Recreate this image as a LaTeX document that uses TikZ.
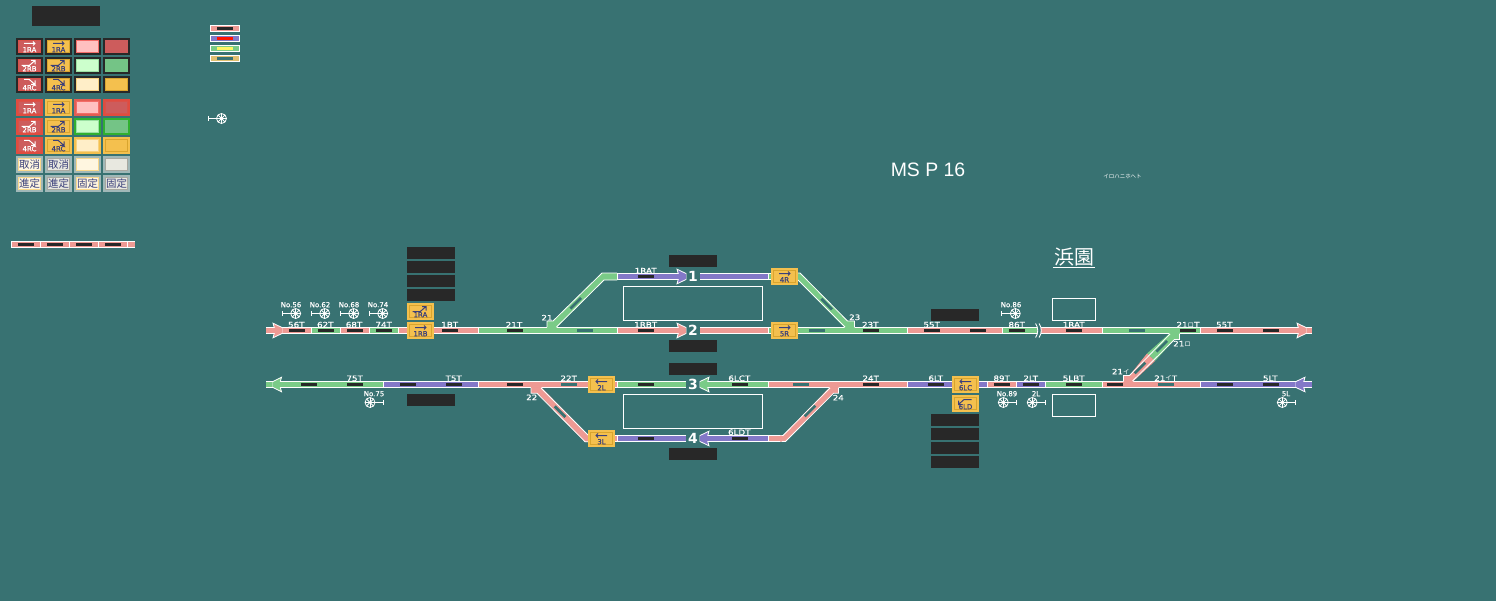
\documentclass[tikz,border=0pt]{standalone}
\usepackage{fontspec}
\setmainfont{DejaVu Sans}
\newfontfamily\lblfont[FakeStretch=1.17,FakeBold=0.4]{DejaVu Sans}
\newfontfamily\smlfont[FakeBold=0.4]{DejaVu Sans}
\newfontfamily\btnfont[FakeBold=0.6]{DejaVu Sans}
\newfontfamily\cjkfont{Noto Sans CJK JP}
\newfontfamily\titlefont{Liberation Sans}
\definecolor{bgc}{RGB}{56,114,114}
\definecolor{dark}{RGB}{40,40,40}
\definecolor{pinkc}{RGB}{238,154,148}
\definecolor{purp}{RGB}{131,120,200}
\definecolor{grn}{RGB}{122,203,135}
\definecolor{tanc}{RGB}{224,192,112}
\definecolor{yel}{RGB}{244,192,78}
\definecolor{yeld}{RGB}{217,165,46}
\definecolor{redb}{RGB}{205,92,92}
\definecolor{redo}{RGB}{224,76,64}
\definecolor{grnb}{RGB}{116,196,134}
\definecolor{grno}{RGB}{48,176,48}
\definecolor{navy2}{RGB}{58,63,122}
\definecolor{greyo}{RGB}{160,184,184}
\definecolor{greyf}{RGB}{168,168,160}
\definecolor{lgrey}{RGB}{232,232,224}
\definecolor{lpink}{RGB}{255,192,192}
\definecolor{lgrn}{RGB}{204,255,204}
\definecolor{lyel}{RGB}{255,238,200}
\definecolor{lyel2}{RGB}{255,246,224}
\tikzset{
  wl/.style={white,line width=1bp},
  wd/.style={white,line width=.8bp},
  lbl/.style={text=white,inner sep=0pt,font=\lblfont\fontsize{7.5}{7.5}\selectfont},
  sml/.style={text=white,inner sep=0pt,font=\smlfont\fontsize{7}{7}\selectfont},
  btntxt/.style={inner sep=0pt,font=\btnfont\fontsize{7}{7}\selectfont},
  cjktxt/.style={inner sep=0pt,text=navy2,font=\cjkfont\fontsize{10.5}{10.5}\selectfont},
  numlbl/.style={text=white,inner sep=0pt,font=\bfseries\fontsize{14}{14}\selectfont},
  darkbox/.style={fill=dark,draw=none},
  outl/.style={draw=white,line width=1bp,fill=none}
}
\newcommand{\trk}[4]{\fill[white] (#1,#3-3.5) rectangle (#2,#3+3.5);\fill[#4] (#1+1,#3-2.5) rectangle (#2,#3+2.5);}
\newcommand{\strip}[3]{\fill[#3] (#1,#2-1.5) rectangle (#1+16,#2+1.5);}
\newcommand{\btn}[5]{\fill[#3] (#1,#2) rectangle (#1+27,#2+17);\fill[#4] (#1+2,#2+2) rectangle (#1+25,#2+15);\fill[#5] (#1+3,#2+3) rectangle (#1+24,#2+14);}
\newcommand{\arrR}[3]{\draw[#3,line width=1bp] (#1+8,#2+5.5) -- (#1+19,#2+5.5) (#1+17,#2+3.5) -- (#1+19,#2+5.5) -- (#1+17,#2+7.5);}
\newcommand{\arrL}[3]{\draw[#3,line width=1bp] (#1+8,#2+5.5) -- (#1+19,#2+5.5) (#1+10,#2+3.5) -- (#1+8,#2+5.5) -- (#1+10,#2+7.5);}
\newcommand{\arrU}[3]{\draw[#3,line width=1bp] (#1+5.7,#2+8.5) -- (#1+13.3,#2+8.5) -- (#1+19,#2+3.5) (#1+15,#2+3.5) -- (#1+19,#2+3.5) -- (#1+19,#2+7.5);}
\newcommand{\arrD}[3]{\draw[#3,line width=1bp] (#1+8,#2+3.5) -- (#1+13.3,#2+3.5) -- (#1+19,#2+8.5) (#1+15,#2+8.5) -- (#1+19,#2+8.5) -- (#1+19,#2+4.5);}
\newcommand{\arrDL}[3]{\draw[#3,line width=1bp] (#1+19.7,#2+4.5) -- (#1+12,#2+4.5) -- (#1+6.5,#2+9.5) (#1+10.5,#2+9.5) -- (#1+6.5,#2+9.5) -- (#1+6.5,#2+5.5);}
\newcommand{\sig}[3]{\begin{scope}[white,line width=.8bp]
 \draw (#1,#2) circle (5);
 \draw (#1-5,#2) -- (#1+5,#2) (#1,#2-5) -- (#1,#2+5);
 \draw (#1-3.5,#2-3.5) -- (#1+3.5,#2+3.5) (#1-3.5,#2+3.5) -- (#1+3.5,#2-3.5);
 \draw (#1,#2) -- (#1+#3*13.5,#2) (#1+#3*13.5,#2-2.5) -- (#1+#3*13.5,#2+2.5);
 \end{scope}}
\newcommand{\ahead}[4]{\pgfmathsetmacro{\dd}{#2-#1}
 \draw[white,line width=.8bp,fill=#4,line join=miter] (#1,#3-7.3) -- (#2,#3-3) -- (#2,#3+3) -- (#1,#3+7.3) -- (#1+.15*\dd,#3+2.5) -- (#1+.15*\dd,#3-2.5) -- cycle;
 \fill[#4] (#1-.3*\dd,#3-2.5) rectangle (#2-.05*\dd,#3+2.5);}
\newcommand{\dstrip}[5]{\fill[#4,rotate around={#3:(#1,#2)}] (#1-#5,#2-1.4) rectangle (#1+#5,#2+1.4);}
\begin{document}
\begin{tikzpicture}[x=1bp,y=-1bp]
\useasboundingbox (0,0) rectangle (1496,601);
\fill[bgc] (0,0) rectangle (1496,601);
\fill[dark] (32,6) rectangle (100,26);
\trk{210}{240}{28.5}{pinkc}\strip{217}{28.5}{dark}\fill[white] (239,25) rectangle (240,32);
\trk{210}{240}{38.5}{purp}\strip{217}{38.5}{red!85!orange}\fill[white] (239,35) rectangle (240,42);
\trk{210}{240}{48.5}{grn}\strip{217}{48.5}{yellow!60!white}\fill[white] (239,45) rectangle (240,52);
\trk{210}{240}{58.5}{tanc}\strip{217}{58.5}{bgc}\fill[white] (239,55) rectangle (240,62);
\sig{221.5}{118.5}{-1}
\btn{16}{38}{dark}{redo!70!redb}{redb}\arrR{16}{38}{white}\node[btntxt,text=white] (a1) at (29.5,49.7) {1RA};
\btn{45}{38}{dark}{yeld}{yel}\arrR{45}{38}{navy2}\node[btntxt,text=navy2] (a2) at (58.5,49.7) {1RA};
\btn{74}{38}{dark}{pinkc!70!red}{lpink}
\btn{103}{38}{dark}{redb}{redb}
\btn{16}{57}{dark}{redo!70!redb}{redb}\arrU{16}{57}{white}\node[btntxt,text=white] (b1) at (29.5,68.7) {2RB};
\btn{45}{57}{dark}{yeld}{yel}\arrU{45}{57}{navy2}\node[btntxt,text=navy2] (b2) at (58.5,68.7) {2RB};
\btn{74}{57}{dark}{grn!60!lgrn}{lgrn}
\btn{103}{57}{dark}{grnb}{grnb}
\btn{16}{76}{dark}{redo!70!redb}{redb}\arrD{16}{76}{white}\node[btntxt,text=white] (c1) at (29.5,87.7) {4RC};
\btn{45}{76}{dark}{yeld}{yel}\arrD{45}{76}{navy2}\node[btntxt,text=navy2] (c2) at (58.5,87.7) {4RC};
\btn{74}{76}{dark}{yel!60!lyel}{lyel}
\btn{103}{76}{dark}{yeld}{yel}
\btn{16}{99}{redo}{redo!70!redb}{redb}\arrR{16}{99}{white}\node[btntxt,text=white] (d1) at (29.5,110.7) {1RA};
\btn{45}{99}{yel}{yeld}{yel}\arrR{45}{99}{navy2}\node[btntxt,text=navy2] (d2) at (58.5,110.7) {1RA};
\btn{74}{99}{redo!90!white}{pinkc!70!red}{lpink}
\btn{103}{99}{redo}{redo!70!redb}{redb}
\btn{16}{118}{redo}{redo!70!redb}{redb}\arrU{16}{118}{white}\node[btntxt,text=white] (e1) at (29.5,129.7) {2RB};
\btn{45}{118}{yel}{yeld}{yel}\arrU{45}{118}{navy2}\node[btntxt,text=navy2] (e2) at (58.5,129.7) {2RB};
\btn{74}{118}{grno}{grn!60!lgrn}{lgrn}
\btn{103}{118}{grno}{grnb}{grnb}
\btn{16}{137}{redo}{redo!70!redb}{redb}\arrD{16}{137}{white}\node[btntxt,text=white] (f1) at (29.5,148.7) {4RC};
\btn{45}{137}{yel}{yeld}{yel}\arrD{45}{137}{navy2}\node[btntxt,text=navy2] (f2) at (58.5,148.7) {4RC};
\btn{74}{137}{yel}{yel!60!lyel}{lyel}
\btn{103}{137}{yel}{yeld}{yel}
\btn{16}{156}{greyo}{yel!50!lyel}{lyel2}\node[cjktxt] (g1) at (29.5,164.5) {取消};
\btn{45}{156}{greyo}{greyf}{lgrey}\node[cjktxt] (g2) at (58.5,164.5) {取消};
\btn{74}{156}{greyo}{yel!50!lyel}{lyel2}
\btn{103}{156}{greyo}{greyf}{lgrey}
\btn{16}{175}{greyo}{yel!50!lyel}{lyel2}\node[cjktxt] (h1) at (29.5,183.5) {進定};
\btn{45}{175}{greyo}{greyf}{lgrey}\node[cjktxt] (h2) at (58.5,183.5) {進定};
\btn{74}{175}{greyo}{yel!50!lyel}{lyel2}\node[cjktxt] (h3) at (87.5,183.5) {固定};
\btn{103}{175}{greyo}{greyf}{lgrey}\node[cjktxt] (h4) at (116.5,183.5) {固定};
\trk{11}{41}{244.5}{pinkc}\trk{40}{70}{244.5}{pinkc}\trk{69}{99}{244.5}{pinkc}\trk{98}{128}{244.5}{pinkc}\trk{127}{135}{244.5}{pinkc}
\strip{18}{244.5}{dark}\strip{47}{244.5}{dark}\strip{76}{244.5}{dark}\strip{105}{244.5}{dark}
\node[inner sep=0pt,text=white,font=\titlefont\fontsize{19.5}{19.5}\selectfont] (title) at (928,170) {MS P 16};
\node[inner sep=0pt,text=white,font=\cjkfont\fontsize{5.5}{5.5}\selectfont] (kana) at (1122.5,176) {イロハニホヘト};
\node[inner sep=0pt,text=white,font=\cjkfont\fontsize{20}{20}\selectfont] (stn) at (1074,257) {浜園};
\draw[wl] (1053,267.5) -- (1095,267.5);
\foreach \x/\y in {407/247,407/261,407/275,407/289,407/394,669/255,669/340,669/363,669/448,931/309,931/414,931/428,931/442,931/456}
  \fill[dark] (\x,\y) rectangle (\x+48,\y+12);
\draw[outl] (623.5,286.5) rectangle (762.5,320.5);
\draw[outl] (623.5,394.5) rectangle (762.5,428.5);
\draw[outl] (1052.5,298.5) rectangle (1095.5,320.5);
\draw[outl] (1052.5,394.5) rectangle (1095.5,416.5);
\def\ya{330.5}
\trk{266}{312}{\ya}{pinkc}\trk{311}{341}{\ya}{grn}\trk{340}{370}{\ya}{pinkc}\trk{369}{399}{\ya}{grn}\trk{398}{479}{\ya}{pinkc}
\trk{478}{618}{\ya}{grn}\trk{617}{682}{\ya}{pinkc}\trk{700}{770}{\ya}{pinkc}\trk{768}{908}{\ya}{grn}\trk{907}{1003}{\ya}{pinkc}
\trk{1002}{1037}{\ya}{grn}\trk{1040}{1103}{\ya}{pinkc}\trk{1102}{1201}{\ya}{grn}\trk{1200}{1312}{\ya}{pinkc}
\fill[pinkc] (266,328) rectangle (268,333);\fill[pinkc] (700,328) rectangle (702,333);
\ahead{273}{282}{\ya}{pinkc}\ahead{677}{686}{\ya}{pinkc}\ahead{1297}{1306}{\ya}{pinkc}
\trk{617}{682}{276.5}{purp}\trk{700}{770}{276.5}{purp}\fill[purp] (700,274) rectangle (702,279);
\trk{768}{772}{276.5}{grn}\ahead{677}{686}{276.5}{purp}
\def\yb{384.5}
\trk{266}{384}{\yb}{grn}\trk{383}{479}{\yb}{purp}\trk{478}{618}{\yb}{pinkc}\trk{617}{686}{\yb}{grn}\trk{704}{769}{\yb}{grn}\trk{768}{908}{\yb}{pinkc}
\trk{907}{988}{\yb}{purp}\trk{987}{1017}{\yb}{pinkc}\trk{1016}{1046}{\yb}{purp}\trk{1045}{1103}{\yb}{grn}\trk{1102}{1201}{\yb}{pinkc}\trk{1200}{1312}{\yb}{purp}
\fill[grn] (266,382) rectangle (268,387);\fill[grn] (704,382) rectangle (706,387);
\ahead{281.5}{273}{\yb}{grn}\ahead{709}{700}{\yb}{grn}\ahead{1305}{1296}{\yb}{purp}
\trk{614}{618}{438.5}{pinkc}\trk{617}{686}{438.5}{purp}\trk{704}{769}{438.5}{purp}\fill[purp] (704,436) rectangle (706,441);
\trk{768}{784}{438.5}{pinkc}\ahead{709}{700}{438.5}{purp}
\foreach \x in {289,318,347,376,442,507,638,863,924,970,1009,1066,1180,1217,1263} {\strip{\x}{\ya}{dark}}
\foreach \x in {577,809,1129} {\strip{\x}{\ya}{bgc}}
\strip{638}{276.5}{dark}
\foreach \x in {301,347,400,446,507,638,732,863,928,994,1023,1066,1107,1217,1263} {\strip{\x}{\yb}{dark}}
\foreach \x in {561,793,1158} {\strip{\x}{\yb}{bgc}}
\strip{638}{438.5}{dark}\strip{732}{438.5}{dark}
% diagonals
\fill[grn] (547,328) -- (547,321) -- (553,321) -- (602,273) -- (618,273) -- (618,280) -- (604,280) -- (556,328) -- cycle;
\draw[wd] (547,327) -- (547,321) -- (553,321) -- (602,273) -- (617,273) (617,280) -- (604,280) -- (556.5,327);
\dstrip{575.7}{303.3}{45}{bgc}{7.5}
\fill[white] (617,273) rectangle (618,280);
\fill[grn] (798,273) -- (800,273) -- (847.5,321) -- (854.5,321) -- (854.5,328) -- (845,328) -- (798,280) -- cycle;
\draw[wd] (798,273) -- (800,273) -- (847.5,321) -- (854.5,321) -- (854.5,327) (845,327) -- (798,280);
\dstrip{826.7}{304}{-45}{bgc}{7.5}
\fill[pinkc] (531,387) -- (541,387) -- (588,435) -- (590,435) -- (590,442) -- (585,442) -- (537,393) -- (531,393) -- cycle;
\draw[wd] (531,388) -- (531,393.3) -- (537,393.3) -- (585,441.7) -- (590,441.7) (541,388) -- (588,435) -- (590,435);
\dstrip{560}{411.7}{-45}{bgc}{7.5}
\fill[pinkc] (780,435.5) -- (783,435.5) -- (830,387) -- (838.5,387) -- (838.5,393) -- (833.5,393) -- (785.5,441.5) -- (780,441.5) -- cycle;
\draw[wd] (782,435.5) -- (783,435.5) -- (830,388) (782,441.5) -- (785.5,441.5) -- (833.5,393.3) -- (838.5,393.3) -- (838.5,388);
\dstrip{810}{411}{45}{bgc}{7.5}
\fill[grn] (1170,333) -- (1179.5,333) -- (1179.5,339.5) -- (1174.5,339.5) -- (1155,361) -- (1147,353.5) -- cycle;
\fill[pinkc] (1155,361) -- (1132.5,382) -- (1123.5,382) -- (1123.5,375.5) -- (1129.5,375.5) -- (1147,353.5) -- cycle;
\draw[wd] (1170,334) -- (1129.5,375.5) -- (1123.5,375.5) -- (1123.5,381);
\draw[wd] (1179.5,334) -- (1179.5,339.5) -- (1174.5,339.5) -- (1132.5,381);
\dstrip{1161.7}{346.3}{45}{bgc}{7.5}
\dstrip{1140}{368}{45}{bgc}{7.5}
% buttons on tracks
\btn{407}{303}{yel}{yeld}{yel}\arrU{407}{303}{navy2}\node[btntxt,text=navy2] (b1ra) at (420.5,314.7) {1RA};
\btn{407}{322}{yel}{yeld}{yel}\arrR{407}{322}{navy2}\node[btntxt,text=navy2] (b1rb) at (420.5,333.7) {1RB};
\btn{771}{268}{yel}{yeld}{yel}\arrR{771}{268}{navy2}\node[btntxt,text=navy2] (b4r) at (784.5,279.7) {4R};
\btn{771}{322}{yel}{yeld}{yel}\arrR{771}{322}{navy2}\node[btntxt,text=navy2] (b5r) at (784.5,333.7) {5R};
\btn{588}{376}{yel}{yeld}{yel}\arrL{588}{376}{navy2}\node[btntxt,text=navy2] (b2l) at (601.5,387.7) {2L};
\btn{588}{430}{yel}{yeld}{yel}\arrL{588}{430}{navy2}\node[btntxt,text=navy2] (b3l) at (601.5,441.7) {3L};
\btn{952}{376}{yel}{yeld}{yel}\arrL{952}{376}{navy2}\node[btntxt,text=navy2] (b6lc) at (965.5,387.7) {6LC};
\btn{952}{395}{yel}{yeld}{yel}\arrDL{952}{395}{navy2}\node[btntxt,text=navy2] (b6ld) at (965.5,406.7) {6LD};
% break mark
\fill[bgc] (1037,326) rectangle (1041,335);
\draw[wl,line width=.9bp] (1035.5,323.5) .. controls (1038.5,327) and (1038.5,334) .. (1035.5,337.5);
\draw[wl,line width=.9bp] (1039,323.5) .. controls (1042,327) and (1042,334) .. (1039,337.5);
% numbers
\node[numlbl] (n1) at (693,276.5) {1};
\node[numlbl] (n2) at (693,330.5) {2};
\node[numlbl] (n3) at (693,384.5) {3};
\node[numlbl] (n4) at (693,438.5) {4};
% signals
\sig{295.7}{313.5}{-1}\sig{324.7}{313.5}{-1}\sig{353.7}{313.5}{-1}\sig{382.7}{313.5}{-1}
\sig{1015.3}{313.5}{-1}
\sig{370}{402.5}{1}\sig{1003.3}{402.5}{1}\sig{1032.2}{402.5}{1}\sig{1282.3}{402.5}{1}
\foreach \x/\t in {291/No.56,320/No.62,349/No.68,378/No.74,1011/No.86} {\node[sml] at (\x,304.7) {\t};}
\foreach \x/\t in {374/No.75,1007/No.89,1036/2L,1286/5L} {\node[sml] at (\x,393.7) {\t};}
\foreach \x/\t in {296.3/56T,325.3/62T,354/68T,383.7/74T,449.7/1BT,514/21T,645.7/1RBT,870.3/23T,931.7/55T,1016.7/86T,1073.7/1RAT,1224.3/55T} {\node[lbl] at (\x,324.7) {\t};}
\node[lbl] (l1rat) at (645.7,270.7) {1RAT};
\node[lbl] (l21ro) at (1188,324.7) {21\cjkfont\fontsize{6.5}{6.5}\selectfont ロ\lblfont\fontsize{7.5}{7.5}\selectfont T};
\foreach \x/\t in {354.7/75T,453.7/T5T,568.7/22T,739.3/6LCT,870.7/24T,935.7/6LT,1001.7/89T,1030.7/2LT,1073.7/5LBT,1270.3/5LT} {\node[lbl] at (\x,378.3) {\t};}
\node[lbl] (l21i) at (1165.7,378.3) {21\cjkfont\fontsize{6.5}{6.5}\selectfont イ\lblfont\fontsize{7.5}{7.5}\selectfont T};
\node[lbl] (l6ld) at (739.3,432.3) {6LDT};
\node[lbl] (j21) at (547,317.7) {21};
\node[lbl] (j23) at (854.7,317.3) {23};
\node[lbl] (j22) at (531.7,397.3) {22};
\node[lbl] (j24) at (838.3,397.7) {24};
\node[lbl] (j21ro) at (1182,343.7) {21\cjkfont\fontsize{6.5}{6.5}\selectfont ロ};
\node[lbl] (j21i) at (1120.7,371.7) {21\cjkfont\fontsize{6.5}{6.5}\selectfont イ};
\end{tikzpicture}
\end{document}
